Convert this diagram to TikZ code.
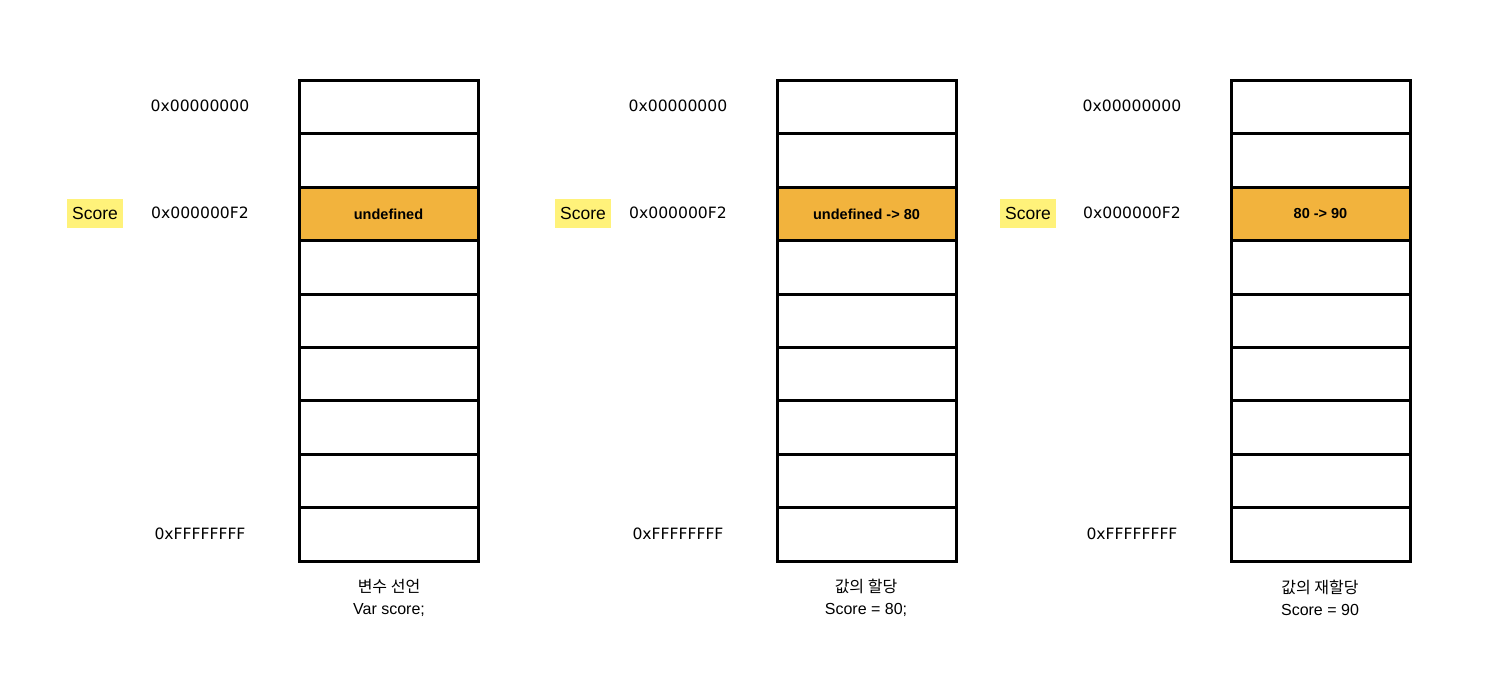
\documentclass[tikz,border=0pt]{standalone}
\usepackage{fontspec}
\setmainfont{Liberation Sans}
\newfontfamily\addrfont{DejaVu Sans}
\newfontfamily\kr{Noto Sans CJK KR}
\definecolor{cellorange}{HTML}{F2B33D}
\definecolor{taghl}{HTML}{FFF27A}
\begin{document}
\begin{tikzpicture}[x=1pt,y=-1pt,
  cell/.style={draw=black,line width=3pt,minimum width=179pt,minimum height=53.4pt,inner sep=0pt,anchor=north west},
  hot/.style={cell,fill=cellorange,font=\bfseries\fontsize{14.5}{16}\selectfont},
  addr/.style={font=\addrfont\fontsize{15.6}{18}\selectfont,inner sep=0pt},
  tag/.style={fill=taghl,font=\fontsize{17.5}{20}\selectfont,minimum width=56pt,minimum height=29pt,inner sep=0pt},
  captext/.style={font=\fontsize{16}{22}\selectfont,align=center,inner sep=0pt}]
\useasboundingbox (0,0) rectangle (1502,678);
\foreach \c/\x/\ax/\tx/\val in {a/297.5/200/95/undefined, b/775.5/678/583/{undefined -> 80}, c/1229.5/1132/1028/{80 -> 90}}{
  \foreach \r in {0,...,8}{
    \ifnum\r=2
      \node[hot] (\c\r) at (\x,{79+\r*53.4}) {\val};
    \else
      \node[cell] (\c\r) at (\x,{79+\r*53.4}) {};
    \fi
  }
  \node[addr] (\c-top) at (\ax,106) {0x00000000};
  \node[addr] (\c-mid) at (\ax,213) {0x000000F2};
  \node[addr] (\c-bot) at (\ax,534) {0xFFFFFFFF};
  \node[tag] (\c-tag) at (\tx,213.5) {Score};
}
\node[captext] (capa) at (389,598) {{\kr 변수 선언}\\Var score;};
\node[captext] (capb) at (866,598) {{\kr 값의 할당}\\Score = 80;};
\node[captext] (capc) at (1320,598) {{\kr 값의 재할당}\\Score = 90};
\end{tikzpicture}
\end{document}
